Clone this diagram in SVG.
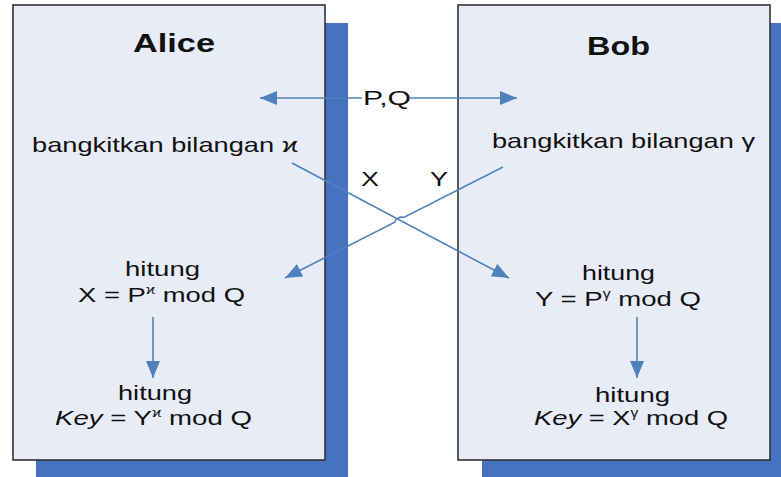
<svg xmlns="http://www.w3.org/2000/svg" width="781" height="477" viewBox="0 0 781 477">
<defs>
<style>
.shadow{fill:#4672bf;}
.box{fill:#e8ecf7;stroke:#333;stroke-width:1.6;}
.t{font-family:"Liberation Sans",Arial,sans-serif;font-size:21px;fill:#111;}
.title{font-family:"Liberation Sans",Arial,sans-serif;font-size:25px;font-weight:bold;fill:#111;}
.sup{font-size:12px;}
.con{fill:none;stroke:#4f81bd;stroke-width:1.6;}
</style>
<marker id="ah" markerUnits="userSpaceOnUse" markerWidth="18" markerHeight="14" refX="17" refY="7" orient="auto">
<path d="M0,0 L17,7 L0,14 Z" fill="#4f81bd"/>
</marker>
</defs>
<rect class="shadow" x="36" y="23" width="312" height="460"/>
<rect class="shadow" x="482" y="23" width="312" height="460"/>
<g id="alice">
<rect class="box" x="13" y="5" width="312" height="455"/>
<text class="title" x="133" y="52" textLength="82" lengthAdjust="spacingAndGlyphs">Alice</text>
<text class="t" x="32" y="152" textLength="266" lengthAdjust="spacingAndGlyphs">bangkitkan bilangan ϰ</text>
<text class="t" x="125" y="276" textLength="75" lengthAdjust="spacingAndGlyphs">hitung</text>
<text class="t" x="78" y="302" textLength="167" lengthAdjust="spacingAndGlyphs">X = P<tspan class="sup" dy="-8">ϰ</tspan><tspan dy="8"> mod Q</tspan></text>
<text class="t" x="118" y="400" textLength="74" lengthAdjust="spacingAndGlyphs">hitung</text>
<text class="t" x="55" y="425" textLength="197" lengthAdjust="spacingAndGlyphs"><tspan font-style="italic">Key</tspan> = Y<tspan class="sup" dy="-8">ϰ</tspan><tspan dy="8"> mod Q</tspan></text>
</g>
<g id="bob">
<rect class="box" x="458" y="5" width="312" height="455"/>
<text class="title" x="587" y="55" textLength="63" lengthAdjust="spacingAndGlyphs">Bob</text>
<text class="t" x="492" y="148" textLength="263" lengthAdjust="spacingAndGlyphs">bangkitkan bilangan γ</text>
<text class="t" x="582" y="280" textLength="73" lengthAdjust="spacingAndGlyphs">hitung</text>
<text class="t" x="535" y="306" textLength="166" lengthAdjust="spacingAndGlyphs">Y = P<tspan class="sup" dy="-8">γ</tspan><tspan dy="8"> mod Q</tspan></text>
<text class="t" x="595" y="402" textLength="75" lengthAdjust="spacingAndGlyphs">hitung</text>
<text class="t" x="534" y="425" textLength="194" lengthAdjust="spacingAndGlyphs"><tspan font-style="italic">Key</tspan> = X<tspan class="sup" dy="-8">γ</tspan><tspan dy="8"> mod Q</tspan></text>
</g>
<g id="labels">
<text class="t" x="363" y="105" textLength="48" lengthAdjust="spacingAndGlyphs">P,Q</text>
<text class="t" x="361" y="186" textLength="18" lengthAdjust="spacingAndGlyphs">X</text>
<text class="t" x="430" y="186" textLength="18" lengthAdjust="spacingAndGlyphs">Y</text>
</g>
<g id="connectors">
<path class="con" d="M362,98 L260,98" marker-end="url(#ah)"/>
<path class="con" d="M410,98 L517,98" marker-end="url(#ah)"/>
<path class="con" d="M292,163 L509,278" marker-end="url(#ah)"/>
<path class="con" d="M503,167 L403.8,217.5 A7,7 0 0 0 394.8,222.1 L285,278" marker-end="url(#ah)"/>
<path class="con" d="M153,317 L153,378" marker-end="url(#ah)"/>
<path class="con" d="M637,317 L637,378" marker-end="url(#ah)"/>
</g>
</svg>
